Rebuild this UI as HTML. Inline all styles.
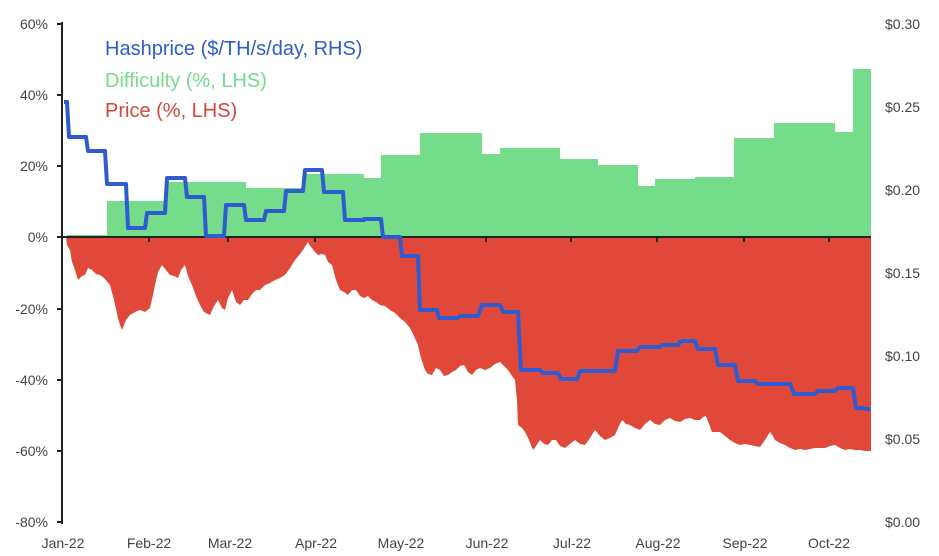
<!DOCTYPE html>
<html><head><meta charset="utf-8"><style>
html,body{margin:0;padding:0;background:#fff;}
svg{display:block;font-family:"Liberation Sans",sans-serif;}
</style></head><body>
<svg width="939" height="556" viewBox="0 0 939 556">
<!-- difficulty -->
<path fill="#74dc8a" d="M67 237 V235 H107 V201 H167 V182 H246 V188 H303 V174 H364 V178 H381 V155 H420 V133 H482 V154 H500 V148 H560 V159 H598 V165 H638 V186 H655 V179 H695 V177 H734 V138 H774 V123 H835 V132 H853 V69 H871 V237 Z"/>
<!-- price -->
<path fill="#e0483a" d="M66 237 L67 245 L70 250 L72 262 L75 270 L78 280 L82 276 L85 275 L88 268 L92 270 L96 274 L100 275 L104 278 L110 285 L114 300 L118 318 L120 325 L122 330 L126 320 L130 315 L135 312 L140 310 L145 312 L150 308 L153 295 L155 285 L158 272 L162 265 L166 270 L170 275 L174 276 L178 278 L181 270 L185 265 L188 276 L192 285 L196 296 L200 305 L204 312 L210 315 L214 306 L218 300 L222 308 L225 310 L228 298 L232 290 L236 302 L240 305 L244 300 L248 300 L252 294 L256 290 L260 290 L265 285 L270 283 L275 280 L280 278 L285 275 L290 268 L295 260 L300 254 L303 250 L306 245 L308 242 L310 246 L312 248 L315 252 L318 255 L322 254 L325 255 L328 262 L332 265 L336 280 L340 290 L344 292 L348 295 L352 290 L356 290 L360 296 L364 298 L368 296 L372 300 L376 302 L380 305 L385 306 L390 310 L395 313 L400 318 L405 322 L410 328 L414 336 L418 345 L421 358 L425 370 L428 374 L432 375 L436 368 L440 370 L444 376 L448 375 L452 372 L456 370 L460 366 L464 365 L468 372 L472 375 L476 370 L480 368 L485 370 L490 368 L495 364 L500 362 L504 366 L508 370 L512 376 L515 380 L517 400 L518 425 L522 428 L525 432 L529 440 L533 450 L536 446 L540 440 L544 444 L548 445 L552 440 L556 440 L560 446 L565 448 L570 444 L575 440 L580 444 L585 445 L590 438 L595 430 L600 436 L605 440 L610 438 L615 435 L618 428 L622 420 L626 424 L630 425 L635 428 L640 430 L645 424 L650 420 L655 424 L660 425 L665 420 L670 418 L675 421 L680 422 L685 419 L690 418 L695 420 L700 420 L703 417 L706 416 L709 424 L712 432 L716 432 L720 432 L725 436 L730 440 L735 443 L740 445 L745 444 L750 445 L755 446 L760 447 L765 440 L770 432 L773 436 L775 440 L780 443 L785 445 L790 448 L795 450 L800 449 L805 450 L810 449 L815 448 L820 448 L825 448 L830 446 L835 445 L840 448 L845 450 L850 449 L855 450 L860 450 L865 451 L871 451 L871 237 Z"/>
<!-- axes -->
<line x1="62" y1="22" x2="62" y2="524" stroke="#222" stroke-width="2"/>
<line x1="57" y1="237" x2="871" y2="237" stroke="#222" stroke-width="2"/>
<g stroke="#222" stroke-width="2">
<line x1="57" y1="24" x2="62" y2="24"/><line x1="57" y1="95" x2="62" y2="95"/><line x1="57" y1="166" x2="62" y2="166"/>
<line x1="57" y1="309" x2="62" y2="309"/><line x1="57" y1="380" x2="62" y2="380"/><line x1="57" y1="451" x2="62" y2="451"/><line x1="57" y1="522" x2="62" y2="522"/>
<line x1="149" y1="237" x2="149" y2="242"/><line x1="228" y1="237" x2="228" y2="242"/><line x1="315" y1="237" x2="315" y2="242"/><line x1="400" y1="237" x2="400" y2="242"/><line x1="486" y1="237" x2="486" y2="242"/><line x1="571" y1="237" x2="571" y2="242"/><line x1="657" y1="237" x2="657" y2="242"/><line x1="744" y1="237" x2="744" y2="242"/><line x1="829" y1="237" x2="829" y2="242"/>
</g>
<!-- hashprice -->
<path fill="none" stroke="#2f5bd0" stroke-width="4" stroke-linejoin="round" d="M64 102 H67 L69 137 H86 L88 151 H105 L107 184 H126 L128 228 H145 L147 213 H165 L167 178 H185 L187 197 H204 L206 236 H224 L226 205 H244 L246 220 H264 L266 211 H284 L286 191 H303 L305 170 H322 L324 192 H343 L345 220 H364 V219 H381 L383 237 H400 L402 256 H418 L420 310 H437 L439 318 H458 L460 316 H478 L482 305 H500 L503 312 H518 L521 370 H540 L543 373 H558 L561 379 H577 L580 371 H615 L618 351 H637 L640 347 H660 L662 345 H678 L681 341 H695 L698 349 H715 L718 365 H735 L738 381 H755 L758 384 H790 L794 394 H815 L818 391 H835 L838 388 H853 L856 408 H862 L866 409 H871"/>
<!-- legend -->
<text x="105" y="55" font-size="20" fill="#2f5bd0">Hashprice ($/TH/s/day, RHS)</text>
<text x="105" y="87" font-size="20" fill="#74dc8a">Difficulty (%, LHS)</text>
<text x="105" y="117" font-size="20" fill="#d2473b">Price (%, LHS)</text>
<!-- left labels -->
<g font-size="14" fill="#444" text-anchor="end">
<text x="48" y="29">60%</text><text x="48" y="100">40%</text><text x="48" y="171">20%</text><text x="48" y="242">0%</text>
<text x="48" y="314">-20%</text><text x="48" y="385">-40%</text><text x="48" y="456">-60%</text><text x="48" y="527">-80%</text>
</g>
<g font-size="14" fill="#444">
<text x="885" y="29">$0.30</text><text x="885" y="112">$0.25</text><text x="885" y="195">$0.20</text><text x="885" y="278">$0.15</text>
<text x="885" y="361">$0.10</text><text x="885" y="444">$0.05</text><text x="885" y="527">$0.00</text>
</g>
<g font-size="14" fill="#444" text-anchor="middle">
<text x="63" y="548">Jan-22</text><text x="149" y="548">Feb-22</text><text x="230" y="548">Mar-22</text><text x="316" y="548">Apr-22</text><text x="401" y="548">May-22</text>
<text x="487" y="548">Jun-22</text><text x="572" y="548">Jul-22</text><text x="658" y="548">Aug-22</text><text x="745" y="548">Sep-22</text><text x="829" y="548">Oct-22</text>
</g>
</svg>
</body></html>
